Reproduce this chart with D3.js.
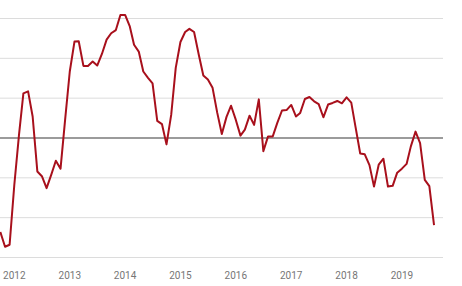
<!DOCTYPE html>
<html>
<head>
<meta charset="utf-8">
<script src="https://cdn.jsdelivr.net/npm/d3@7"></script>
<style>
  html, body { margin: 0; padding: 0; background: #fff; }
  svg { display: block; }
  .year { font-family: Roboto, sans-serif; font-size: 10px; fill: #767676; }
</style>
</head>
<body>
<svg id="chart" width="462" height="286"></svg>
<script>
// monthly values, first month Oct 2011
var startMonth = "2011-10-01";
var values = [
  -2.36, -2.73, -2.68,
  -1.18, 0.08, 1.12, 1.17, 0.54, -0.84, -0.96, -1.26, -0.92, -0.57, -0.77, 0.45,
  1.67, 2.42, 2.43, 1.81, 1.81, 1.92, 1.82, 2.11, 2.47, 2.63, 2.71, 3.09,
  3.09, 2.80, 2.34, 2.17, 1.67, 1.51, 1.37, 0.43, 0.35, -0.16, 0.58, 1.76,
  2.41, 2.66, 2.74, 2.66, 2.11, 1.57, 1.47, 1.26, 0.63, 0.10, 0.53, 0.81,
  0.46, 0.06, 0.21, 0.56, 0.33, 0.97, -0.33, 0.04, 0.04, 0.38, 0.69, 0.70,
  0.83, 0.54, 0.63, 0.98, 1.03, 0.92, 0.85, 0.52, 0.84, 0.88, 0.93, 0.87,
  1.02, 0.89, 0.28, -0.39, -0.41, -0.68, -1.22, -0.67, -0.52, -1.22, -1.20, -0.87,
  -0.77, -0.65, -0.21, 0.16, -0.13, -1.05, -1.21, -2.19
];
var gridValues = [-3, -2, -1, 0, 1, 2, 3];
var yearTicks = [2012, 2013, 2014, 2015, 2016, 2017, 2018, 2019];

var start = new Date(startMonth + "T00:00:00Z");
var dates = d3.utcMonth.range(start, d3.utcMonth.offset(start, values.length));
var data = dates.map(function(d, i) { return {date: d, value: values[i]}; });

var svg = d3.select("#chart");

var x = d3.scaleUtc()
    .domain([Date.UTC(2012, 0, 1), Date.UTC(2019, 0, 1)])
    .range([14.3, 401.9]);

var y = d3.scaleLinear()
    .domain([-3, 3])
    .range([257.5, 18.5]);

// horizontal grid
svg.append("g").selectAll("line").data(gridValues).enter().append("line")
    .attr("x1", 0)
    .attr("x2", 443)
    .attr("y1", function(d) { return y(d); })
    .attr("y2", function(d) { return y(d); })
    .attr("stroke", function(d) { return d === 0 ? "#7a7a7a" : "#dcdcdc"; })
    .attr("stroke-width", function(d) { return d === 0 ? 1.5 : 1; });

// year labels
svg.append("g").selectAll("text").data(yearTicks).enter().append("text")
    .attr("class", "year")
    .attr("x", function(d) { return x(new Date(Date.UTC(d, 0, 1))); })
    .attr("y", 279)
    .attr("text-anchor", "middle")
    .text(function(d) { return d; });

var line = d3.line()
    .x(function(d) { return x(d.date); })
    .y(function(d) { return y(d.value); });

svg.append("path")
    .datum(data)
    .attr("fill", "none")
    .attr("stroke", "#a8101c")
    .attr("stroke-width", 2)
    .attr("stroke-linejoin", "round")
    .attr("d", line);
</script>
</body>
</html>
